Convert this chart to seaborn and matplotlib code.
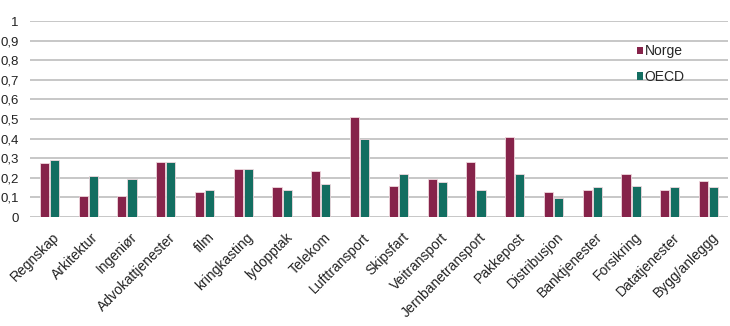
import numpy as np
import pandas as pd
import matplotlib
matplotlib.use("Agg")
import matplotlib.pyplot as plt
import matplotlib.transforms as mtransforms
import seaborn as sns

categories = ["Regnskap", "Arkitektur", "Ingeniør", "Advokattjenester", "film",
              "kringkasting", "lydopptak", "Telekom", "Lufttransport", "Skipsfart",
              "Veitransport", "Jernbanetransport", "Pakkepost", "Distribusjon",
              "Banktjenester", "Forsikring", "Datatjenester", "Bygg/anleggg"]
norge = [0.275, 0.105, 0.105, 0.282, 0.129, 0.243, 0.151, 0.233, 0.51, 0.16,
         0.192, 0.282, 0.407, 0.129, 0.136, 0.218, 0.136, 0.185]
oecd = [0.29, 0.21, 0.194, 0.282, 0.136, 0.243, 0.136, 0.17, 0.396, 0.218,
        0.177, 0.136, 0.218, 0.097, 0.151, 0.16, 0.151, 0.151]
series = ["Norge", "OECD"]
y_ticks = [0, 0.1, 0.2, 0.3, 0.4, 0.5, 0.6, 0.7, 0.8, 0.9, 1]
y_tick_labels = ["0", "0,1", "0,2", "0,3", "0,4", "0,5", "0,6", "0,7", "0,8", "0,9", "1"]

df = pd.DataFrame({
    "kategori": categories * 2,
    "verdi": norge + oecd,
    "serie": [series[0]] * len(categories) + [series[1]] * len(categories),
})

sns.set_theme(style="white")
plt.rcParams["font.family"] = ["Liberation Sans", "DejaVu Sans"]

fig = plt.figure(figsize=(7.30, 3.26), dpi=100)
ax = fig.add_axes([30 / 730, 1 - 217 / 326, 698 / 730, 196 / 326])

palette = {"Norge": "#86234A", "OECD": "#136E61"}
sns.barplot(data=df, x="kategori", y="verdi", hue="serie", palette=palette,
            order=categories, hue_order=series, width=0.52, gap=0.1,
            edgecolor="#f0d8de", linewidth=0.6, saturation=1, ax=ax, zorder=3)

ax.set_ylim(0, 1)
ax.set_xlim(-0.5, len(categories) - 0.5)
ax.set_yticks(y_ticks)
ax.set_yticklabels(y_tick_labels, fontsize=9.5, color="#222222")
ax.yaxis.grid(True, color="#bdbdbd", linewidth=1.2, zorder=0)
ax.set_axisbelow(True)
for s in ax.spines.values():
    s.set_visible(False)
ax.tick_params(axis="y", length=0, pad=8)
ax.tick_params(axis="x", length=0, pad=9.5)
ax.set_xticks(range(len(categories)))
ax.set_xticklabels(categories, rotation=45, ha="right", va="top",
                   rotation_mode="anchor", fontsize=10, color="#222222")
shift = mtransforms.ScaledTranslation(3 / 100, 0, fig.dpi_scale_trans)
for lbl in ax.get_xticklabels():
    lbl.set_transform(lbl.get_transform() + shift)
ax.set_xlabel("")
ax.set_ylabel("")

leg = ax.legend(loc="upper left", bbox_to_anchor=(0.861, 0.91), frameon=False,
                fontsize=10, handlelength=0.45, handleheight=0.45,
                handletextpad=0.15, labelspacing=0.85, borderaxespad=0)
for h in leg.legend_handles:
    h.set_edgecolor("none")

fig.savefig("out.png", dpi=100, facecolor="white")
